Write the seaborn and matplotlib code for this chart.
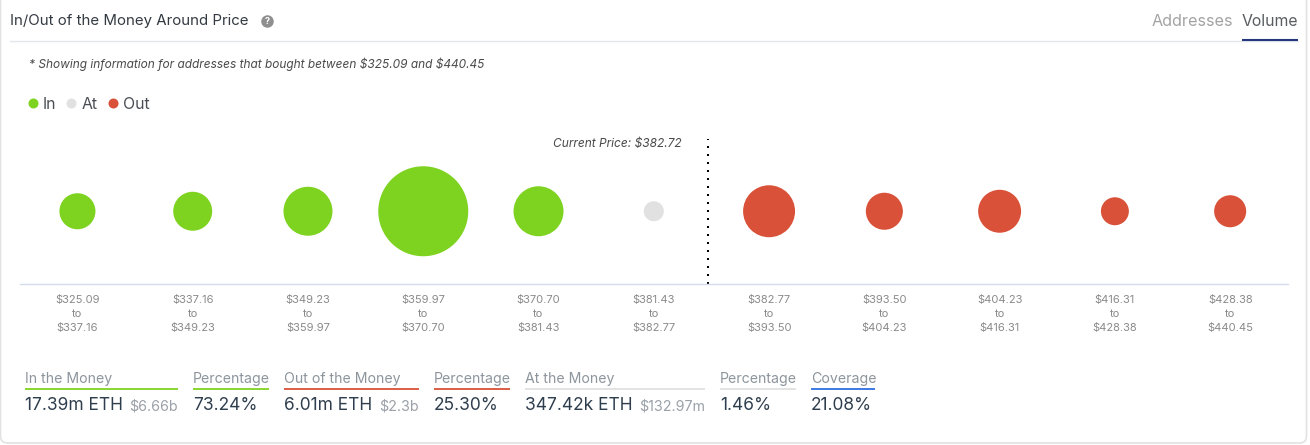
import matplotlib
matplotlib.use('Agg')
import matplotlib.pyplot as plt
from matplotlib.lines import Line2D
from matplotlib.patches import FancyBboxPatch
import pandas as pd
import seaborn as sns

# ============================
# DATA
# ============================

range_low = ['$325.09', '$337.16', '$349.23', '$359.97', '$370.70', '$381.43',
             '$382.77', '$393.50', '$404.23', '$416.31', '$428.38']
range_high = ['$337.16', '$349.23', '$359.97', '$370.70', '$381.43', '$382.77',
              '$393.50', '$404.23', '$416.31', '$428.38', '$440.45']
status = ['In', 'In', 'In', 'In', 'In', 'At', 'Out', 'Out', 'Out', 'Out', 'Out']
volume_m = [1.43, 1.67, 2.64, 8.91, 2.75, 0.44, 2.97, 1.51, 2.03, 0.86, 1.13]

status_colors = {'In': '#7ed320', 'At': '#e1e1e1', 'Out': '#d95138'}
current_price_pos = 5.47

stat_labels = ['In the Money', 'Percentage', 'Out of the Money', 'Percentage',
               'At the Money', 'Percentage', 'Coverage']
stat_values = ['17.39m ETH', '73.24%', '6.01m ETH', '25.30%',
               '347.42k ETH', '1.46%', '21.08%']
stat_extra = ['$6.66b', '', '$2.3b', '', '$132.97m', '', '']
stat_colors = ['#7ed320', '#7ed320', '#d95138', '#d95138',
               '#e1e1e1', '#e1e1e1', '#2f6fe0']
stat_left = [25, 193, 284, 434, 525, 720, 811]
stat_right = [178, 269, 419, 510, 705, 796, 875]

df = pd.DataFrame({
    'pos': range(len(status)),
    'y': 0,
    'status': status,
    'volume': volume_m
})

# ============================
# FIGURE
# ============================

sns.set_theme(style='white')
plt.rcParams['font.family'] = ['Inter', 'DejaVu Sans']
plt.rcParams['text.parse_math'] = False

W, H = 1310, 445
fig = plt.figure(figsize=(W / 100, H / 100), dpi=100, facecolor='white')

# overlay in pixel coordinates for the page furniture
page = fig.add_axes([0, 0, 1, 1])
page.set_xlim(0, W)
page.set_ylim(H, 0)
page.axis('off')

page.add_patch(FancyBboxPatch((0.5, -20), 1306, 463,
                              boxstyle='round,pad=0,rounding_size=7',
                              facecolor='white', edgecolor='#e2e2e2', lw=1.2))

page.text(10, 20.5, 'In/Out of the Money Around Price', fontsize=10.8,
          color='#333a42', va='center')
page.plot([267], [21], 'o', ms=9, color='#8f8f8f', mew=0)
page.text(267, 21, '?', fontsize=6.5, color='white', fontweight='bold',
          ha='center', va='center')
page.text(1152, 21.5, 'Addresses', fontsize=11.6, color='#a3a3a3', va='center')
page.text(1242, 21.5, 'Volume', fontsize=11.4, color='#585d63', va='center')
page.plot([10, 1298], [41, 41], color='#e3e6ea', lw=1)
page.plot([1242, 1298], [40, 40], color='#26377f', lw=1.5, solid_capstyle='butt')

page.text(29, 64, '* Showing information for addresses that bought between $325.09 and $440.45',
          fontsize=8.55, style='italic', color='#4a4a4a', va='center')
page.text(681.5, 144.5, 'Current Price: $382.72', fontsize=8.6, style='italic',
          color='#4a4a4a', ha='right', va='center')

# ============================
# BUBBLES
# ============================

ax = fig.add_axes([19.8 / W, 1 - 284 / H, 1268 / W, 145.5 / H])
ax.patch.set_alpha(0)

max_diam_pt = 90 * 0.72
sns.scatterplot(data=df, x='pos', y='y', hue='status', palette=status_colors,
                size='volume', size_norm=(0, max(volume_m)),
                sizes=(0, max_diam_pt ** 2), linewidth=0, legend=False,
                clip_on=False, ax=ax)

ax.axvline(current_price_pos, color='black', lw=1.44,
           linestyle=(0, (1, 3)), dash_capstyle='butt')

ax.set_xlim(-0.5, len(status) - 0.5)
ax.set_ylim(-1, 1)
ax.set_xticks(df['pos'])
ax.set_xticklabels([a + '\nto\n' + b for a, b in zip(range_low, range_high)],
                   fontsize=8, color='#8a8a8a', linespacing=1.5)
ax.tick_params(axis='x', length=0, pad=8)
ax.set_yticks([])
ax.set_xlabel('')
ax.set_ylabel('')
sns.despine(ax=ax, left=True)
ax.spines['bottom'].set_color('#d3dcec')
ax.spines['bottom'].set_linewidth(1)

# legend
handles = [Line2D([], [], marker='o', ls='', ms=7.2, mew=0, color=status_colors[k], label=k)
           for k in ['In', 'At', 'Out']]
fig.legend(handles=handles, loc='center left', bbox_to_anchor=(27 / W, 1 - 104.5 / H),
           ncol=3, frameon=False, fontsize=11.4, labelcolor='#4a4f55',
           handlelength=0.7, handletextpad=0.28, columnspacing=0.62,
           borderpad=0, borderaxespad=0)

# ============================
# STATS ROW
# ============================

for i in range(len(stat_labels)):
    page.text(stat_left[i], 378.5, stat_labels[i], fontsize=10.2, color='#8d959d', va='center')
    page.plot([stat_left[i], stat_right[i]], [388.5, 388.5], color=stat_colors[i], lw=1.3,
              solid_capstyle='butt')
    page.text(stat_left[i], 405.5, stat_values[i], fontsize=12.5, color='#2f3e4e', va='center')
    if stat_extra[i]:
        page.text(stat_right[i], 406.5, stat_extra[i], fontsize=10.3, color='#9aa1a8',
                  ha='right', va='center')

fig.savefig('out.png', dpi=100)
